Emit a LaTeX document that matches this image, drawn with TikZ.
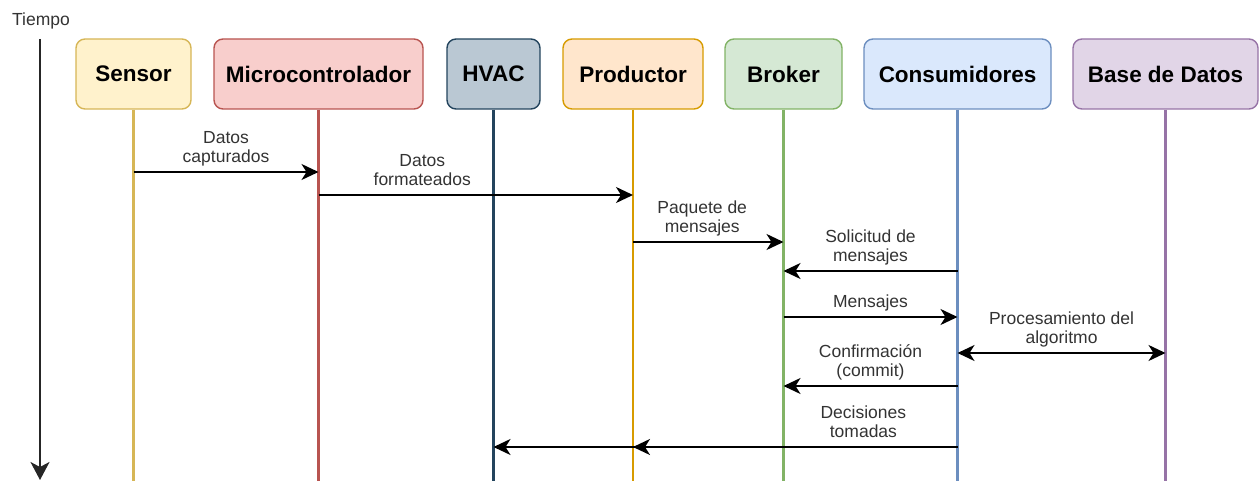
\documentclass[tikz,border=0pt]{standalone}
\usepackage{fontspec}
\setmainfont{Liberation Sans}
\usetikzlibrary{arrows.meta}
\usepackage{xcolor}

\definecolor{sensorFill}{HTML}{FFF2CC}
\definecolor{sensorLine}{HTML}{D6B656}
\definecolor{microFill}{HTML}{F8CECC}
\definecolor{microLine}{HTML}{B85450}
\definecolor{hvacFill}{HTML}{BAC8D3}
\definecolor{hvacLine}{HTML}{23445D}
\definecolor{prodFill}{HTML}{FFE6CC}
\definecolor{prodLine}{HTML}{D79B00}
\definecolor{brokerFill}{HTML}{D5E8D4}
\definecolor{brokerLine}{HTML}{82B366}
\definecolor{consFill}{HTML}{DAE8FC}
\definecolor{consLine}{HTML}{6C8EBF}
\definecolor{dbFill}{HTML}{E1D5E7}
\definecolor{dbLine}{HTML}{9673A6}

\begin{document}
\begin{tikzpicture}[x=1pt, y=-1pt]
        % ================= estilos =================
        \tikzset{
            % cabecera de cada participante
            actor/.style={draw, line width=1.4pt, rounded corners=9pt, minimum height=70pt, inner sep=0pt, font=\fontsize{22.5}{26}\selectfont\bfseries},
            % linea de vida
            lifeline/.style={line width=2.3pt},
            % mensaje
            msg/.style={line width=1.8pt, black, -{Stealth[length=17pt, width=16pt, inset=5pt]}},
            % mensaje en los dos sentidos
            msg_both/.style={msg, {Stealth[length=17pt, width=16pt, inset=5pt]}-{Stealth[length=17pt, width=16pt, inset=5pt]}},
            % texto de los mensajes
            msg_label/.style={align=center, inner sep=0pt, text depth=4pt, text=black!80, font=\fontsize{17.5}{18.5}\selectfont},
            % eje del tiempo
            time_axis/.style={line width=2pt, black!85, -{Stealth[length=18pt, width=19pt, inset=5pt]}}
        }
        \useasboundingbox (0,0) rectangle (1260,481);

        % ================= 1. eje del tiempo =================
        \node[msg_label, text depth=0pt] (tiempo) at (41,19) {Tiempo};
        \coordinate (t_top) at (40,39);
        \coordinate (t_bot) at (40,480);
        \draw[time_axis] (t_top) -- (t_bot);

        % ================= 2. participantes =================
        \node[actor, fill=sensorFill, draw=sensorLine, minimum width=115pt] (sensor) at (133.5,74) {Sensor};
        \node[actor, fill=microFill, draw=microLine, minimum width=209pt] (micro) at (318.5,74) {Microcontrolador};
        \node[actor, fill=hvacFill, draw=hvacLine, minimum width=93pt] (hvac) at (493.5,74) {HVAC};
        \node[actor, fill=prodFill, draw=prodLine, minimum width=140pt] (prod) at (633,74) {Productor};
        \node[actor, fill=brokerFill, draw=brokerLine, minimum width=117pt] (broker) at (783.5,74) {Broker};
        \node[actor, fill=consFill, draw=consLine, minimum width=187pt] (cons) at (957.5,74) {Consumidores};
        \node[actor, fill=dbFill, draw=dbLine, minimum width=185pt] (db) at (1165.5,74) {Base de Datos};

        % ================= 3. lineas de vida =================
        \coordinate (bottom) at (0,481);
        \draw[lifeline, draw=sensorLine] (sensor) -- (sensor |- bottom);
        \draw[lifeline, draw=microLine] (micro) -- (micro |- bottom);
        \draw[lifeline, draw=hvacLine] (hvac) -- (hvac |- bottom);
        \draw[lifeline, draw=prodLine] (prod) -- (prod |- bottom);
        \draw[lifeline, draw=brokerLine] (broker) -- (broker |- bottom);
        \draw[lifeline, draw=consLine] (cons) -- (cons |- bottom);
        \draw[lifeline, draw=dbLine] (db) -- (db |- bottom);

        % ================= 4. mensajes =================
        % alturas de cada mensaje
        \coordinate (m1) at (0,172);
        \coordinate (m2) at (0,195);
        \coordinate (m3) at (0,242);
        \coordinate (m4) at (0,271);
        \coordinate (m5) at (0,317);
        \coordinate (m6) at (0,353);
        \coordinate (m7) at (0,386);
        \coordinate (m8) at (0,447);

        \draw[msg] (sensor |- m1) -- node[msg_label, above=5pt] (l1) {Datos\\capturados} (micro |- m1);
        \draw[msg] (micro |- m2) -- node[msg_label, above=5pt, pos=0.33] (l2) {Datos\\formateados} (prod |- m2);
        \draw[msg] (prod |- m3) -- node[msg_label, above=5pt, pos=0.46] (l3) {Paquete de\\mensajes} (broker |- m3);
        \draw[msg] (cons |- m4) -- node[msg_label, above=5pt] (l4) {Solicitud de\\mensajes} (broker |- m4);
        \draw[msg] (broker |- m5) -- node[msg_label, above=5pt] (l5) {Mensajes} (cons |- m5);
        \draw[msg_both] (cons |- m6) -- node[msg_label, above=5pt] (l6) {Procesamiento del\\algoritmo} (db |- m6);
        \draw[msg] (cons |- m7) -- node[msg_label, above=5pt] (l7) {Confirmación\\(commit)} (broker |- m7);

        % --- decisiones: hacia HVAC y hacia Productor ---
        \draw[msg] (cons |- m8) -- (hvac |- m8);
        \draw[msg] (cons |- m8) -- node[msg_label, above=5pt, pos=0.29] (l8) {Decisiones\\tomadas} (prod |- m8);

\end{tikzpicture}
\end{document}
